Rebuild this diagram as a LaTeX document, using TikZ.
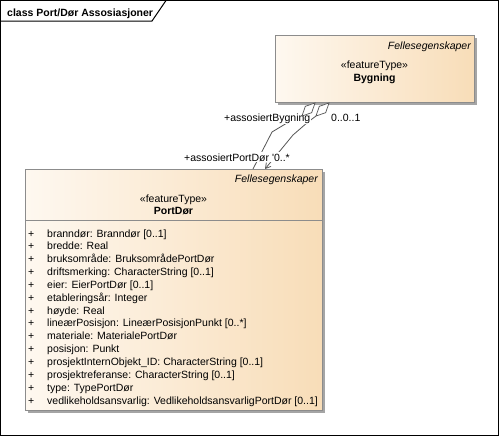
\documentclass[tikz,border=0pt]{standalone}
\usepackage{fontspec}
\setmainfont{Liberation Sans}
\usepackage{xcolor}
\usepackage{tikz}
\usetikzlibrary{arrows.meta,calc,shadows,positioning}

\definecolor{boxleft}{RGB}{254,248,240}
\definecolor{boxright}{RGB}{248,221,184}
\definecolor{boxline}{RGB}{140,140,140}
\definecolor{shadowgray}{RGB}{165,165,165}
\definecolor{linkgray}{RGB}{85,85,85}

\tikzset{
  classbox/.style={draw=boxline, left color=boxleft, right color=boxright, anchor=north west, inner sep=0pt,
    general shadow={fill=shadowgray, shadow xshift=3pt, shadow yshift=-3pt}},
  umltext/.style={inner sep=0pt, font=\fontsize{10.5}{12}\selectfont},
  rolelabel/.style={umltext, fill=white, inner sep=1pt, anchor=base west},
  assoc/.style={draw=linkgray, line width=0.8pt}
}

\begin{document}
\begin{tikzpicture}[x=1pt,y=-1pt]
    \useasboundingbox (0,0) rectangle (499,437);

    % Frame
    \draw[line width=1pt] (0.5,0.5) rectangle (498.5,435.5);
    \draw[line width=1pt] (0.5,21) -- (152,21) -- (166,0.5);
    \node[umltext, anchor=base west, font=\fontsize{10.5}{12}\selectfont\bfseries] (title) at (7,16) {class Port/Dør Assosiasjoner};

    % Classes
    \node[classbox, minimum width=199pt, minimum height=67pt] (byg) at (275,35) {};
    \node[classbox, minimum width=297pt, minimum height=241pt] (port) at (25,169) {};

    % Bygning
    \node[umltext, anchor=base east, font=\fontsize{10.5}{12}\selectfont\itshape] (bygfs) at (471,49) {Fellesegenskaper};
    \node[umltext, anchor=base] (bygst) at (374.5,68) {«featureType»};
    \node[umltext, anchor=base, font=\fontsize{10.5}{12}\selectfont\bfseries] (bygname) at (374.5,81) {Bygning};

    % PortDør
    \node[umltext, anchor=base east, font=\fontsize{10.5}{12}\selectfont\itshape] (portfs) at (318,182) {Fellesegenskaper};
    \node[umltext, anchor=base] (portst) at (173.5,202) {«featureType»};
    \node[umltext, anchor=base, font=\fontsize{10.5}{12}\selectfont\bfseries] (portname) at (173.5,214) {PortDør};
    \draw[boxline] (25,220) -- (322,220);

    % Attributes
    \foreach \attr [count=\i from 0] in {
        {branndør: Branndør [0..1]},
        {bredde: Real},
        {bruksområde: BruksområdePortDør},
        {driftsmerking: CharacterString [0..1]},
        {eier: EierPortDør [0..1]},
        {etableringsår: Integer},
        {høyde: Real},
        {lineærPosisjon: LineærPosisjonPunkt [0..*]},
        {materiale: MaterialePortDør},
        {posisjon: Punkt},
        {prosjektInternObjekt\_ID: CharacterString [0..1]},
        {prosjektreferanse: CharacterString [0..1]},
        {type: TypePortDør},
        {vedlikeholdsansvarlig: VedlikeholdsansvarligPortDør [0..1]}}
    {
        \node[umltext, anchor=base west] (plus\i) at (28,{237+12.85*\i}) {+};
        \node[umltext, anchor=base west] (attr\i) at (47,{237+12.85*\i}) {\attr};
    }

    % Associations
    \coordinate (aggA) at (315,103);
    \coordinate (aggAend) at (302,116);
    \coordinate (aggB) at (329,103);
    \coordinate (aggBend) at (316,116);
    \coordinate (endA) at (253,169);
    \coordinate (endB) at (265,169);

    \draw[assoc] (aggAend) -- (287,123) -- (272,132) -- (endA);
    \draw[assoc, -{Straight Barb[length=5pt,width=6pt]}] (aggBend) -- (308,122) -- (293,135) -- (endB);

    % Labels
    \node[rolelabel] (rolebyg) at (223,121) {+assosiertBygning};
    \node[rolelabel] (multbyg) at (330,121) {0..0..1};
    \node[rolelabel] (roleport) at (183,161) {+assosiertPortDør {\textquotesingle}0..*};

    % Aggregation diamonds
    \draw[assoc, line width=0.7pt, fill=white] (aggA) -- ($(aggA)!0.5!(aggAend)!4.5pt!90:(aggAend)$) -- (aggAend) -- ($(aggA)!0.5!(aggAend)!4.5pt!-90:(aggAend)$) -- cycle;
    \draw[assoc, line width=0.7pt, fill=white] (aggB) -- ($(aggB)!0.5!(aggBend)!4.5pt!90:(aggBend)$) -- (aggBend) -- ($(aggB)!0.5!(aggBend)!4.5pt!-90:(aggBend)$) -- cycle;
\end{tikzpicture}
\end{document}
